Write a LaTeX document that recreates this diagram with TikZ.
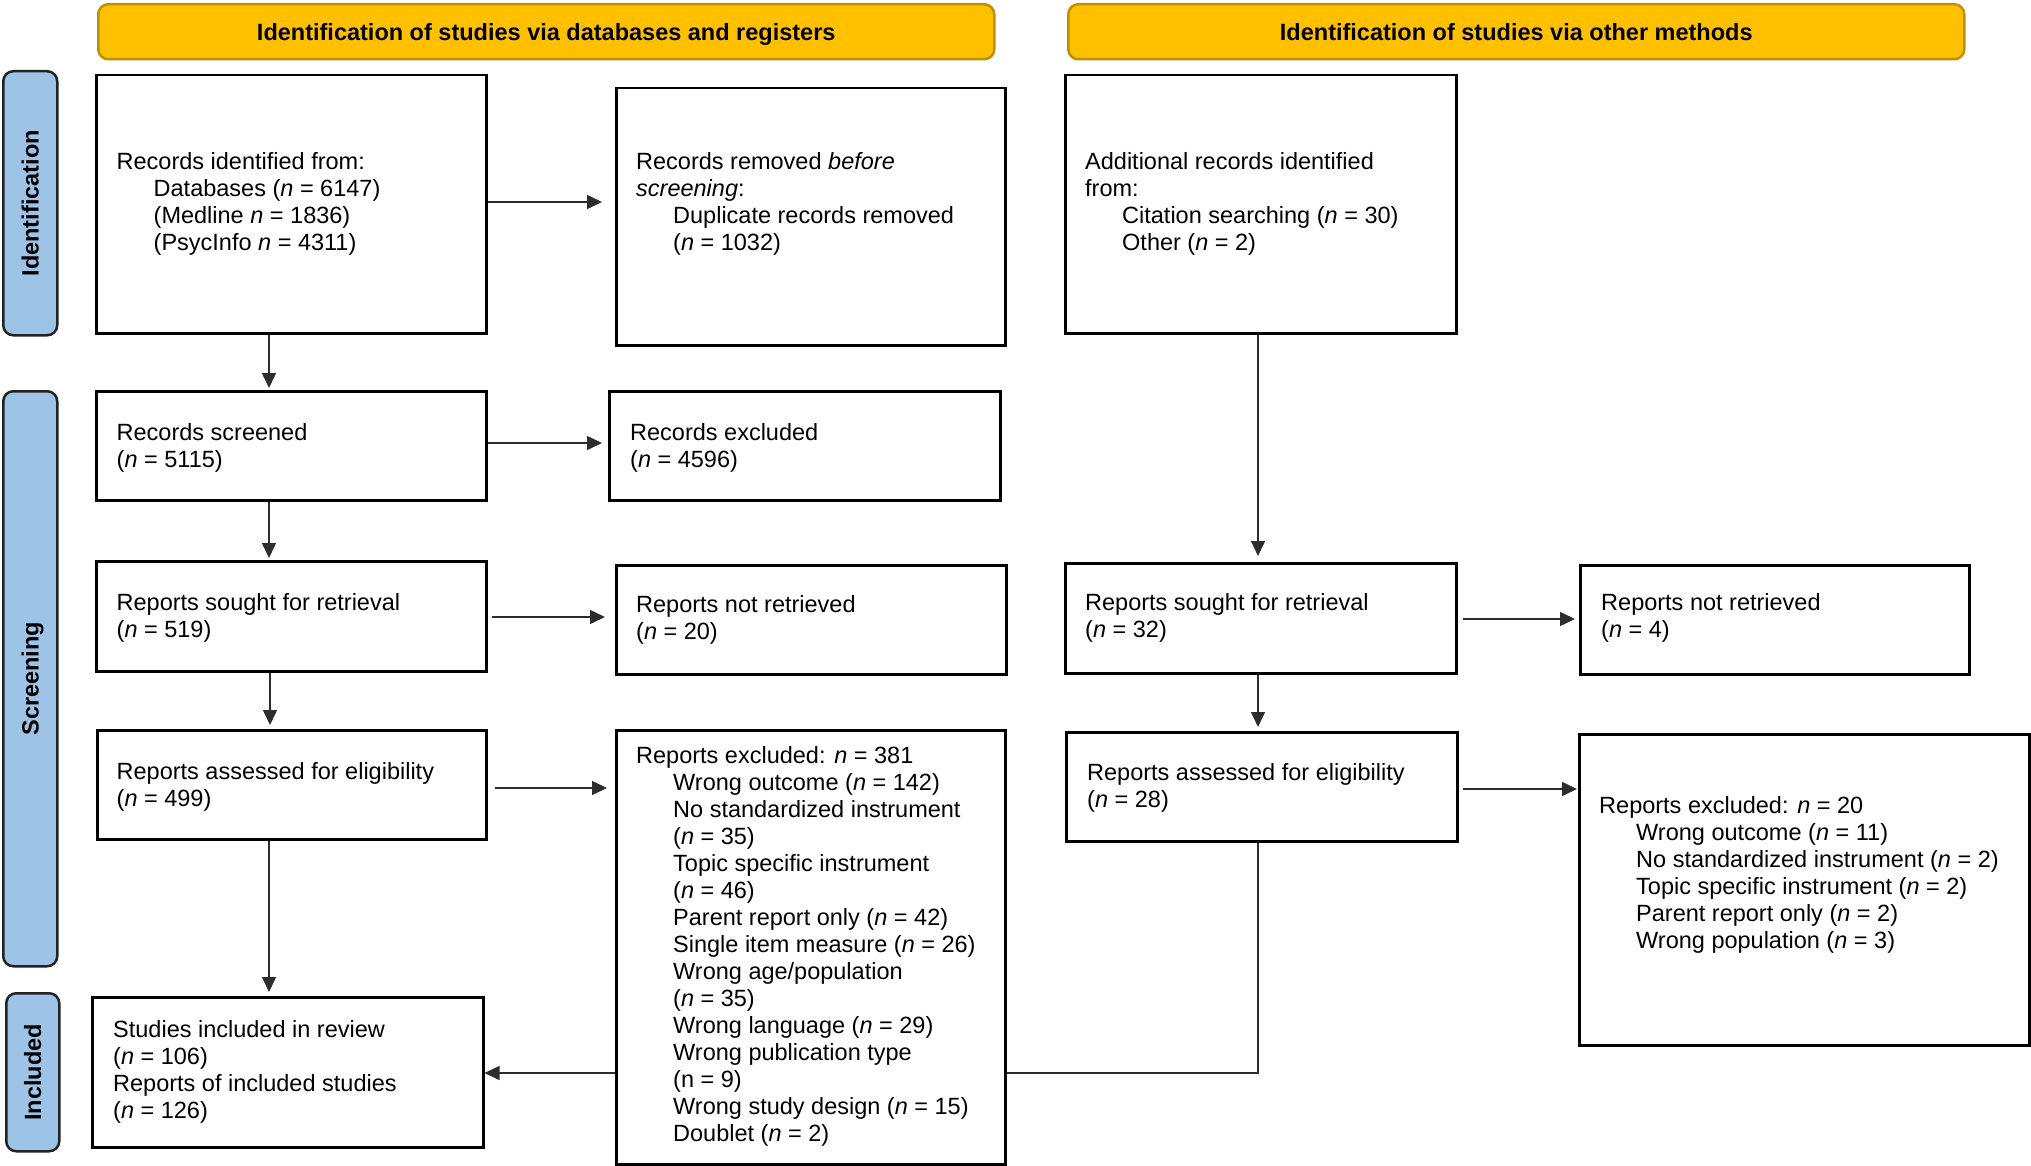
\documentclass[tikz,border=0pt]{standalone}
\usepackage{fontspec}
\setmainfont{Liberation Sans}
\usetikzlibrary{arrows.meta}
\definecolor{hdrfill}{RGB}{255,192,0}
\definecolor{hdrdraw}{RGB}{191,144,0}
\definecolor{sidefill}{RGB}{157,195,230}
\definecolor{sidedraw}{RGB}{35,35,35}
\definecolor{linec}{RGB}{45,45,45}
\newcommand\ind{\hspace*{37pt}}
\tikzset{
  box/.style={draw=black, line width=2.5pt, fill=white, anchor=north west, inner sep=0pt},
  txt/.style={anchor=base west, align=left, inner sep=0pt, font=\fontsize{23.5pt}{27pt}\selectfont},
  hdr/.style={draw=hdrdraw, fill=hdrfill, line width=2.5pt, rounded corners=10pt, anchor=north west, inner sep=0pt,
    font=\fontsize{23.5pt}{27pt}\selectfont\bfseries, text height=16.8pt, text depth=0pt},
  side/.style={draw=sidedraw, fill=sidefill, line width=2.5pt, rounded corners=10pt, anchor=north west, inner sep=0pt},
  sidetxt/.style={rotate=90, inner sep=0pt, font=\fontsize{23.5pt}{27pt}\selectfont\bfseries, text height=16.8pt, text depth=0pt},
  arr/.style={draw=linec, line width=1.5pt, -{Triangle[length=15pt,width=14pt]}},
  conn/.style={draw=linec, line width=1.5pt},
}
\begin{document}
\begin{tikzpicture}[x=1pt,y=-1pt]
\useasboundingbox (0,0) rectangle (2031,1166);
% headers
\node[hdr, minimum width=896pt, minimum height=55pt] (h1) at (97,3) {Identification of studies via databases and registers};
\node[hdr, minimum width=896pt, minimum height=55pt] (h2) at (1067,3) {Identification of studies via other methods};
% side labels
\node[side, minimum width=54pt, minimum height=264pt] (sid) at (2,70) {};
\node[sidetxt] (tsid) at (sid.center) {Identification};
\node[side, minimum width=54pt, minimum height=575pt] (ssc) at (2,390) {};
\node[sidetxt] (tssc) at (ssc.center) {Screening};
\node[side, minimum width=53pt, minimum height=158pt] (sin) at (5,992) {};
\node[sidetxt] (tsin) at (sin.center) {Included};
% boxes
\node[box, minimum width=390pt, minimum height=258pt] (A) at (95,74) {};
\node[box, minimum width=389pt, minimum height=257pt] (B) at (615,87) {};
\node[box, minimum width=391pt, minimum height=258pt] (C) at (1064,74) {};
\node[box, minimum width=390pt, minimum height=109pt] (D) at (95,390) {};
\node[box, minimum width=391pt, minimum height=109pt] (E) at (608,390) {};
\node[box, minimum width=390pt, minimum height=110pt] (F) at (95,560) {};
\node[box, minimum width=390pt, minimum height=109pt] (G) at (615,564) {};
\node[box, minimum width=391pt, minimum height=110pt] (H) at (1064,562) {};
\node[box, minimum width=389pt, minimum height=109pt] (I) at (1579,564) {};
\node[box, minimum width=389pt, minimum height=109pt] (J) at (96,729) {};
\node[box, minimum width=389pt, minimum height=434pt] (K) at (615,729) {};
\node[box, minimum width=391pt, minimum height=109pt] (L) at (1065,731) {};
\node[box, minimum width=450pt, minimum height=311pt] (M) at (1578,733) {};
\node[box, minimum width=391pt, minimum height=150pt] (N) at (91,996) {};
% texts (anchored at the baseline of their last line)
\node[txt] (tA) at (116.5,251) {Records identified from:\\
\ind Databases (\textit{n} = 6147)\\
\ind (Medline \textit{n} = 1836)\\
\ind (PsycInfo \textit{n} = 4311)};
\node[txt] (tB) at (636,251) {Records removed \textit{before}\\
\textit{screening}:\\
\ind Duplicate records removed\\
\ind (\textit{n} = 1032)};
\node[txt] (tC) at (1085,251) {Additional records identified\\
from:\\
\ind Citation searching (\textit{n} = 30)\\
\ind Other (\textit{n} = 2)};
\node[txt] (tD) at (116.5,467) {Records screened\\(\textit{n} = 5115)};
\node[txt] (tE) at (630,467) {Records excluded\\(\textit{n} = 4596)};
\node[txt] (tF) at (116.5,637) {Reports sought for retrieval\\(\textit{n} = 519)};
\node[txt] (tG) at (636,639) {Reports not retrieved\\(\textit{n} = 20)};
\node[txt] (tH) at (1085,637) {Reports sought for retrieval\\(\textit{n} = 32)};
\node[txt] (tI) at (1601,637) {Reports not retrieved\\(\textit{n} = 4)};
\node[txt] (tJ) at (116.5,806) {Reports assessed for eligibility\\(\textit{n} = 499)};
\node[txt] (tK) at (636,1141) {Reports excluded: \textit{n} = 381\\
\ind Wrong outcome (\textit{n} = 142)\\
\ind No standardized instrument\\
\ind (\textit{n} = 35)\\
\ind Topic specific instrument\\
\ind (\textit{n} = 46)\\
\ind Parent report only (\textit{n} = 42)\\
\ind Single item measure (\textit{n} = 26)\\
\ind Wrong age/population\\
\ind (\textit{n} = 35)\\
\ind Wrong language (\textit{n} = 29)\\
\ind Wrong publication type\\
\ind (n = 9)\\
\ind Wrong study design (\textit{n} = 15)\\
\ind Doublet (\textit{n} = 2)};
\node[txt] (tL) at (1087,807) {Reports assessed for eligibility\\(\textit{n} = 28)};
\node[txt] (tM) at (1599,948) {Reports excluded: \textit{n} = 20\\
\ind Wrong outcome (\textit{n} = 11)\\
\ind No standardized instrument (\textit{n} = 2)\\
\ind Topic specific instrument (\textit{n} = 2)\\
\ind Parent report only (\textit{n} = 2)\\
\ind Wrong population (\textit{n} = 3)};
\node[txt] (tN) at (113,1118) {Studies included in review\\
(\textit{n} = 106)\\
Reports of included studies\\
(\textit{n} = 126)};
% horizontal arrows
\draw[arr, shorten >=13pt] (A.east |- 0,202) -- (B.west |- 0,202);
\draw[arr, shorten >=6pt] (D.east |- 0,443) -- (E.west |- 0,443);
\draw[arr, shorten <=4pt, shorten >=10pt] (F.east |- 0,617) -- (G.west |- 0,617);
\draw[arr, shorten <=5pt, shorten >=4pt] (H.east |- 0,619) -- (I.west |- 0,619);
\draw[arr, shorten <=7pt, shorten >=8pt] (J.east |- 0,788) -- (K.west |- 0,788);
\draw[arr, shorten <=4pt, shorten >=1pt] (L.east |- 0,789) -- (M.west |- 0,789);
% vertical arrows
\draw[arr, shorten >=2pt] (A.south -| 269,0) -- (D.north -| 269,0);
\draw[arr, shorten >=2pt] (D.south -| 269,0) -- (F.north -| 269,0);
\draw[arr, shorten >=4pt] (F.south -| 270,0) -- (J.north -| 270,0);
\draw[arr, shorten >=4pt] (J.south -| 269,0) -- (N.north -| 269,0);
\draw[arr, shorten >=6pt] (C.south -| 1258,0) -- (H.north -| 1258,0);
\draw[arr, shorten >=4pt] (H.south -| 1258,0) -- (L.north -| 1258,0);
% merge to included
\draw[conn] (L.south -| 1258,0) |- (K.east |- 0,1073);
\draw[arr] (K.west |- 0,1073) -- (N.east |- 0,1073);
\end{tikzpicture}
\end{document}
